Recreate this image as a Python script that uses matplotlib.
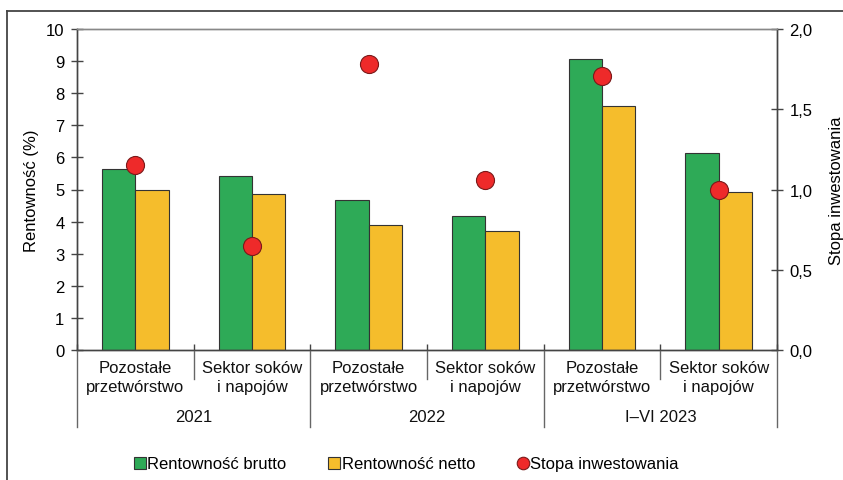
import matplotlib
matplotlib.use("Agg")
import matplotlib.pyplot as plt
from matplotlib.lines import Line2D
import matplotlib.transforms as mtransforms
import numpy as np

plt.rcParams['font.family'] = ['Liberation Sans', 'DejaVu Sans']

# Data
categories = ["Pozostałe\nprzetwórstwo", "Sektor soków\ni napojów"] * 3
years = ["2021", "2022", "I–VI 2023"]
brutto = [5.64, 5.41, 4.67, 4.16, 9.07, 6.13]
netto = [4.98, 4.86, 3.90, 3.71, 7.61, 4.91]
stopa = [1.15, 0.65, 1.78, 1.06, 1.71, 1.00]

left_ticks = list(range(0, 11))
right_ticks = [0.0, 0.5, 1.0, 1.5, 2.0]

GREEN = "#2eaa57"
YELLOW = "#f5bd2c"
RED = "#ee2a2a"
EDGE = "#333333"
AXIS = "#444444"
FS = 12

fig = plt.figure(figsize=(8.43, 4.81), dpi=100)
W, H = 843, 481
ax = fig.add_axes([77 / W, 1 - 351 / H, 700 / W, 321 / H])

x = np.arange(len(categories))
bw = 0.287
ax.bar(x - bw / 2, brutto, bw, color=GREEN, edgecolor=EDGE, linewidth=0.8, zorder=2)
ax.bar(x + bw / 2, netto, bw, color=YELLOW, edgecolor=EDGE, linewidth=0.8, zorder=2)

ax.set_xlim(-0.5, len(categories) - 0.5)
ax.set_ylim(0, 10)
ax.set_yticks(left_ticks)
ax.set_yticklabels([str(t) for t in left_ticks], fontsize=FS)
ax.set_ylabel("Rentowność (%)", fontsize=FS, labelpad=5)

ax2 = ax.twinx()
ax2.set_ylim(0, 2)
ax2.set_yticks(right_ticks)
ax2.set_yticklabels([f"{t:.1f}".replace(".", ",") for t in right_ticks], fontsize=FS)
ax2.set_ylabel("Stopa inwestowania", fontsize=FS, labelpad=12)
ax2.plot(x, stopa, linestyle="none", marker="o", markersize=13,
         markerfacecolor=RED, markeredgecolor="#7a1a1a", markeredgewidth=0.8, zorder=5)

for a in (ax, ax2):
    for side in ("left", "right", "top", "bottom"):
        a.spines[side].set_color(AXIS)
        a.spines[side].set_linewidth(1.0)
    a.tick_params(axis="y", direction="inout", length=8, width=1.0, color=AXIS, pad=5)
ax.spines["top"].set_color("#888888")
ax2.spines["top"].set_color("#888888")

# Category boundaries: inward ticks on the zero line
bounds = np.arange(len(categories) + 1) - 0.5
ax.set_xticks(bounds)
ax.set_xticklabels([])
ax.tick_params(axis="x", direction="in", length=4, width=1.0, color=AXIS)

# Category and year labels below the axis
trans = mtransforms.blended_transform_factory(ax.transData, fig.transFigure)
for xi, lab in zip(x, categories):
    ax.text(xi, 1 - 378 / H, lab, transform=trans, ha="center", va="center",
            fontsize=FS, linespacing=1.35, color="#111111")
for i, yr in enumerate(years):
    ax.text(2 * i + 0.5, 1 - 418 / H, yr, transform=trans, ha="center", va="center",
            fontsize=FS, color="#111111")

# Separator lines in the label area
for i, b in enumerate(bounds):
    bottom = 428 if i % 2 == 0 else 380
    fig.add_artist(Line2D([b, b], [1 - 352 / H, 1 - bottom / H], transform=trans,
                          color="#666666", linewidth=1.0))

# Legend
handles = [
    Line2D([], [], linestyle="none", marker="s", markersize=8,
           markerfacecolor=GREEN, markeredgecolor=EDGE, markeredgewidth=0.8),
    Line2D([], [], linestyle="none", marker="s", markersize=8,
           markerfacecolor=YELLOW, markeredgecolor=EDGE, markeredgewidth=0.8),
    Line2D([], [], linestyle="none", marker="o", markersize=9,
           markerfacecolor=RED, markeredgecolor="#7a1a1a", markeredgewidth=0.8),
]
labels = ["Rentowność brutto", "Rentowność netto", "Stopa inwestowania"]
fig.legend(handles, labels, loc="center", bbox_to_anchor=(0.482, 1 - 465 / H),
           ncol=3, frameon=False, fontsize=FS, handlelength=0.7, handletextpad=0.1,
           columnspacing=2.5)

# Outer frame (left and top edges)
fx, fy = 7 / W, 1 - 12 / H
fig.add_artist(Line2D([fx, fx], [0, fy], transform=fig.transFigure, color="#444444", linewidth=1.3))
fig.add_artist(Line2D([fx, 1], [fy, fy], transform=fig.transFigure, color="#444444", linewidth=1.3))

fig.savefig("out.png", dpi=100)
